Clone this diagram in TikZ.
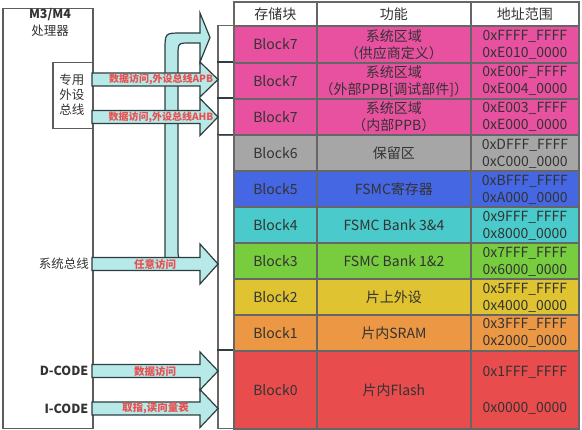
\documentclass[tikz,border=0pt]{standalone}
\usepackage{fontspec}
\setmainfont{Noto Sans CJK SC}

\definecolor{pinkblk}{HTML}{E8519F}
\definecolor{grayblk}{HTML}{A6A6A6}
\definecolor{blueblk}{HTML}{4567E3}
\definecolor{cyanblk}{HTML}{4ACACA}
\definecolor{greenblk}{HTML}{78CD3F}
\definecolor{yellowblk}{HTML}{E0C330}
\definecolor{orangeblk}{HTML}{EC9744}
\definecolor{redblk}{HTML}{E84C4D}
\definecolor{gridgray}{HTML}{666666}
\definecolor{txtgray}{HTML}{333333}
\definecolor{busfill}{HTML}{B7E9E9}
\definecolor{busline}{HTML}{2E3D3F}
\definecolor{buslabel}{HTML}{E8504F}

\begin{document}
\begin{tikzpicture}[x=1pt, y=-1pt,
        cell/.style = {draw=gridgray, line width=1.8pt, anchor=north west, inner sep=0pt,
                       align=center, text=txtgray, font=\fontsize{14}{17}\selectfont},
        sidebox/.style = {draw=gridgray, line width=1.5pt, fill=white, anchor=north west, inner sep=0pt},
        cpubox/.style = {draw=gridgray!90!black, line width=1.5pt, fill=white, anchor=north west, inner sep=0pt},
        cputext/.style = {text=txtgray, font=\fontsize{12.5}{15}\selectfont, inner sep=0pt},
        busarrow/.style = {draw=busline, fill=busfill, line width=1.2pt, line join=miter},
        buslbl/.style = {text=buslabel, font=\fontsize{10}{12}\selectfont\bfseries, inner sep=0pt}]
        \useasboundingbox (0,0) rectangle (582,430);

        % processor
        \node[cpubox, minimum width=90, minimum height=420] (cpu) at (2,8) {};
        \node[cpubox, minimum width=40, minimum height=66] (ppb) at (52,62) {};
        \node[cputext, font=\fontsize{12.5}{15}\selectfont\bfseries] (cpuname) at (50,15) {M3/M4};
        \node[cputext] (cpusub) at (50,31) {处理器};
        \node[cputext, align=center] (ppbtext) at (72,95) {专用\\外设\\总线};
        \node[cputext, anchor=east] (sysbus) at (89,264) {系统总线};
        \node[cputext, anchor=east, font=\fontsize{12.5}{15}\selectfont\bfseries] (dcode) at (88.5,371) {D-CODE};
        \node[cputext, anchor=east, font=\fontsize{12.5}{15}\selectfont\bfseries] (icode) at (88.5,408.5) {I-CODE};

        % side boxes
        \foreach \t/\b [count=\i] in {25/62, 62/98, 98/134.5, 134.5/350, 350/428} {
            \pgfmathsetmacro\h{\b-\t}
            \node[sidebox, minimum width=16, minimum height=\h] (side\i) at (217,\t) {};
        }
        \foreach \t in {62, 98, 134.5, 350}
            \draw[busline, line width=1.5pt] (217,\t) -- (233,\t);

        % table
        \node[cell, fill=white, minimum width=83, minimum height=24] (hblk) at (233,1) {存储块};
        \node[cell, fill=white, minimum width=154, minimum height=24] (hfn) at (316,1) {功能};
        \node[cell, fill=white, minimum width=108, minimum height=24] (haddr) at (470,1) {地址范围};
        \foreach \t/\b/\c/\blk/\fn/\hi/\lo/\g [count=\i] in {
            25/62/pinkblk/Block7/{系统区域\\（供应商定义）}/0xFFFF\_FFFF/0xE010\_0000/0pt,
            62/98/pinkblk/Block7/{系统区域\\（外部PPB[调试部件]）}/0xE00F\_FFFF/0xE004\_0000/0pt,
            98/134.5/pinkblk/Block7/{系统区域\\（内部PPB）}/0xE003\_FFFF/0xE000\_0000/0pt,
            134.5/170.5/grayblk/Block6/保留区/0xDFFF\_FFFF/0xC000\_0000/0pt,
            170.5/206.5/blueblk/Block5/FSMC寄存器/0xBFFF\_FFFF/0xA000\_0000/0pt,
            206.5/242.5/cyanblk/Block4/FSMC Bank 3\&4/0x9FFF\_FFFF/0x8000\_0000/0pt,
            242.5/278.5/greenblk/Block3/FSMC Bank 1\&2/0x7FFF\_FFFF/0x6000\_0000/0pt,
            278.5/314.5/yellowblk/Block2/片上外设/0x5FFF\_FFFF/0x4000\_0000/0pt,
            314.5/350/orangeblk/Block1/片内SRAM/0x3FFF\_FFFF/0x2000\_0000/0pt,
            350/428/redblk/Block0/片内Flash/0x1FFF\_FFFF/0x0000\_0000/19pt} {
            \pgfmathsetmacro\h{\b-\t}
            \node[cell, fill=\c, minimum width=83, minimum height=\h] (blk\i) at (233,\t) {\blk};
            \node[cell, fill=\c, minimum width=154, minimum height=\h] (fn\i) at (316,\t) {\fn};
            \node[cell, fill=\c, minimum width=108, minimum height=\h] (addr\i) at (470,\t) {\hi\\[\g]\lo};
        }

        % bus arrows
        \draw[busarrow] (165,262) -- (165,50) .. controls (165,33) .. (182,33) -- (200,33)
            -- (200,13) -- (210,37.5) -- (200,62) -- (200,43) -- (190,43)
            .. controls (178,43) .. (178,56) -- (178,250) .. controls (178,256) .. (181,262) -- cycle;
        \foreach \y/\hh in {79.5/17.5, 117/18.5, 264/20, 371/19, 408.5/19}
            \draw[busarrow] (92,\y-6.5) -- (200,\y-6.5) -- (200,\y-\hh) -- (218,\y)
                -- (200,\y+\hh) -- (200,\y+6.5) -- (92,\y+6.5) -- cycle;

        \node[buslbl] (apblbl) at (161,79.5) {数据访问,外设总线APB};
        \node[buslbl] (ahblbl) at (161,117) {数据访问,外设总线AHB};
        \node[buslbl, font=\fontsize{10.5}{12}\selectfont\bfseries] (anylbl) at (155,264) {任意访问};
        \node[buslbl, font=\fontsize{10.5}{12}\selectfont\bfseries] (datalbl) at (155,371) {数据访问};
        \node[buslbl, font=\fontsize{10.5}{12}\selectfont\bfseries] (fetchlbl) at (155.5,408.5) {取指,读向量表};
      \end{tikzpicture}
\end{document}
